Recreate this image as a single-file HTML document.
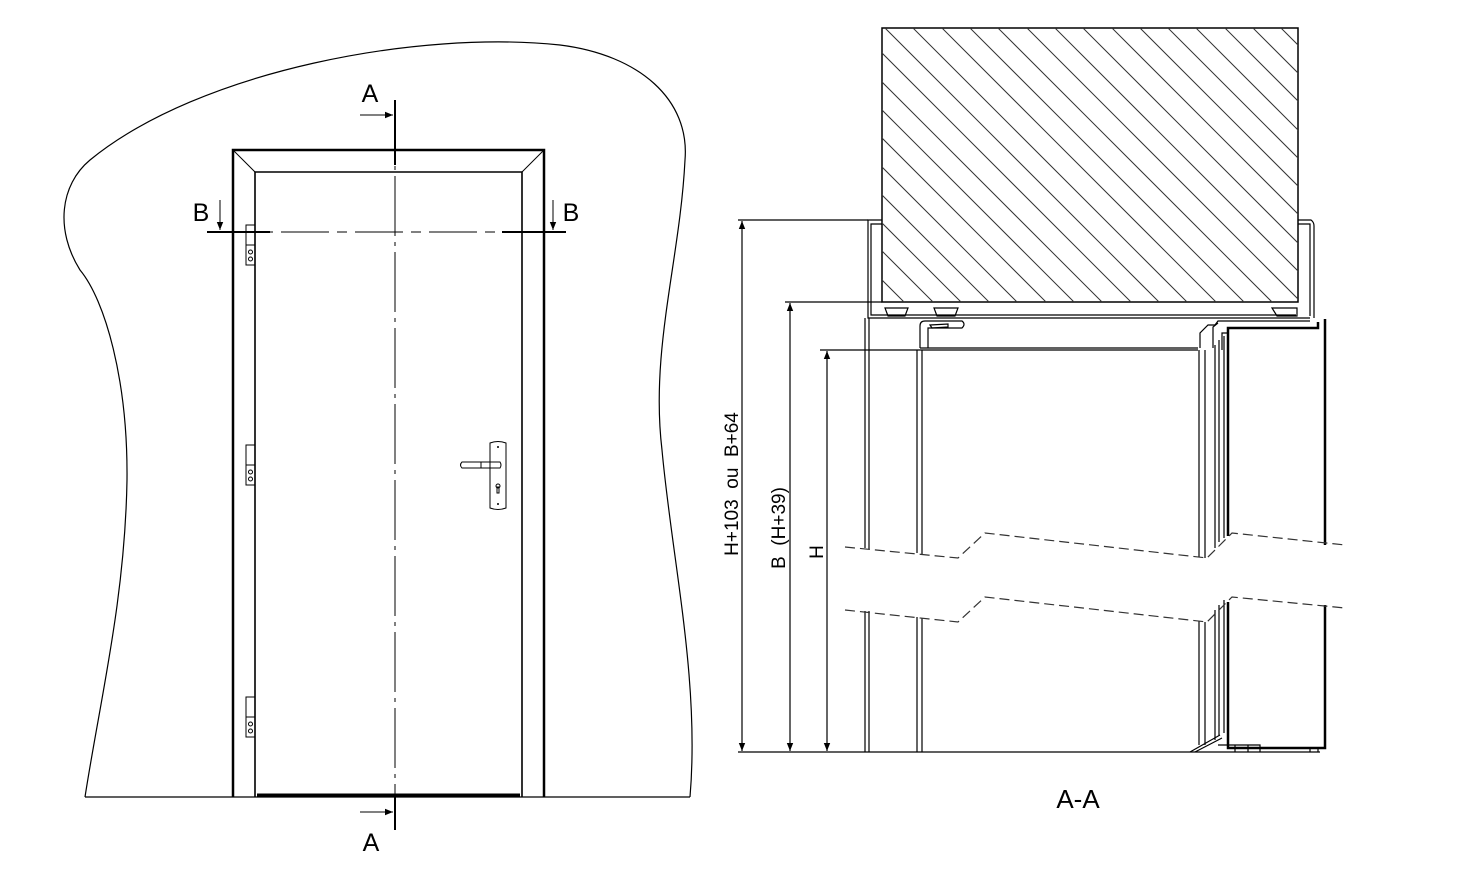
<!DOCTYPE html>
<html><head><style>html,body{margin:0;padding:0;background:#fff}svg{display:block}text{font-family:"Liberation Sans",Arial,sans-serif}</style></head>
<body>
<svg width="1463" height="878" viewBox="0 0 1463 878" xmlns="http://www.w3.org/2000/svg">
<defs>
<clipPath id="hc"><rect x="882" y="28" width="416" height="274"/></clipPath>
<marker id="ar" viewBox="0 0 10 10" refX="10" refY="5" markerWidth="10" markerHeight="8" orient="auto-start-reverse" markerUnits="userSpaceOnUse"><path d="M0,1 L10,5 L0,9 z" fill="#000"/></marker>
</defs>
<!-- LEFT: wall outline -->
<path d="M85,797 C100,700 125,600 127,480 C128,380 105,300 80,270 C55,230 60,185 90,160 C200,70 420,30 560,45 C640,55 690,100 685,160 C680,260 650,350 662,450 C672,560 700,680 690,797" fill="none" stroke="#000" stroke-width="1.2"/>
<line x1="85" y1="797" x2="690" y2="797" stroke="#000" stroke-width="1.2"/>
<!-- frame -->
<path d="M233,797 V150 H544 V797" fill="none" stroke="#000" stroke-width="2.5"/>
<path d="M255,797 V172 H522 V797" fill="none" stroke="#000" stroke-width="1.6"/>
<line x1="233" y1="150" x2="255" y2="172" stroke="#000"/>
<line x1="544" y1="150" x2="522" y2="172" stroke="#000"/>
<line x1="257" y1="795" x2="520" y2="795" stroke="#000" stroke-width="3"/>
<!-- centerline A -->
<line x1="395" y1="100" x2="395" y2="830" stroke="#000" stroke-width="1" stroke-dasharray="60,6,4,6"/>
<line x1="395" y1="100" x2="395" y2="165" stroke="#000" stroke-width="2"/>
<line x1="395" y1="795" x2="395" y2="830" stroke="#000" stroke-width="2"/>
<line x1="360" y1="115" x2="393" y2="115" stroke="#000" marker-end="url(#ar)"/>
<line x1="360" y1="812" x2="393" y2="812" stroke="#000" marker-end="url(#ar)"/>
<text x="370" y="102" font-size="25" text-anchor="middle">A</text>
<text x="371" y="851" font-size="25" text-anchor="middle">A</text>
<!-- B line -->
<line x1="207" y1="232" x2="566" y2="232" stroke="#000" stroke-width="1" stroke-dasharray="48,8,10,8"/>
<line x1="207" y1="232" x2="270" y2="232" stroke="#000" stroke-width="2"/>
<line x1="502" y1="232" x2="566" y2="232" stroke="#000" stroke-width="2"/>
<line x1="220" y1="200" x2="220" y2="230" stroke="#000" marker-end="url(#ar)"/>
<line x1="553" y1="200" x2="553" y2="230" stroke="#000" marker-end="url(#ar)"/>
<text x="201" y="221" font-size="25" text-anchor="middle">B</text>
<text x="571" y="221" font-size="25" text-anchor="middle">B</text>
<!-- hinges -->
<g fill="none" stroke="#000" stroke-width="1">
<rect x="246" y="225" width="9" height="40"/><line x1="246" y1="245" x2="255" y2="245"/><circle cx="250.5" cy="252" r="2"/><circle cx="250.5" cy="259" r="2"/>
<rect x="246" y="445" width="9" height="40"/><line x1="246" y1="465" x2="255" y2="465"/><circle cx="250.5" cy="472" r="2"/><circle cx="250.5" cy="479" r="2"/>
<rect x="246" y="697" width="9" height="40"/><line x1="246" y1="717" x2="255" y2="717"/><circle cx="250.5" cy="724" r="2"/><circle cx="250.5" cy="731" r="2"/>
<!-- handle -->
<path d="M490,443 Q498,440 506,443 L506,508 Q498,511 490,508 Z"/>
<path d="M462,462 H500 Q502,465 500,468 H462 Q459,465 462,462 Z"/>
<line x1="481" y1="462" x2="481" y2="468"/>
<circle cx="498" cy="486" r="2"/><rect x="497" y="487" width="2" height="6"/>
</g>
<circle cx="498" cy="447" r="1" fill="#000"/><circle cx="498" cy="504" r="1" fill="#000"/>
<!-- RIGHT: hatched wall -->
<rect x="882" y="28" width="416" height="274" fill="none" stroke="#000" stroke-width="1.5"/>
<g clip-path="url(#hc)" stroke="#333" stroke-width="1">
<path d="M602,28 l274,274 M630,28 l274,274 M659,28 l274,274 M687,28 l274,274 M715,28 l274,274 M743,28 l274,274 M772,28 l274,274 M800,28 l274,274 M828,28 l274,274 M857,28 l274,274 M885,28 l274,274 M913,28 l274,274 M942,28 l274,274 M970,28 l274,274 M998,28 l274,274 M1027,28 l274,274 M1055,28 l274,274 M1083,28 l274,274 M1112,28 l274,274 M1140,28 l274,274 M1168,28 l274,274 M1196,28 l274,274 M1225,28 l274,274 M1253,28 l274,274 M1281,28 l274,274"/>
</g>
<!-- frame profile -->
<g fill="none" stroke="#000" stroke-width="1.2">
<path d="M882,220 H868 V318 H1310"/>
<path d="M882,224 H871 V315 H1296"/>
<path d="M1298,220 H1311 Q1314,222 1314,226 V318"/>
<path d="M1298,224 H1310 V316"/>
<path d="M885,308 H908 L905,316 H888 Z M934,308 H958 L955,316 H937 Z M1272,308 H1297 V316 H1277 Z"/>
<path d="M920,348 V326 Q920,321 925,321 H962 Q966,324 962,328 H928 V348"/>
<path d="M930,325 L948,324 V327 L932,328 Z"/>
<line x1="920" y1="348" x2="1198" y2="348"/>
<line x1="920" y1="350" x2="1198" y2="350"/>
<path d="M1200,348 V333 L1208,325 H1215 L1218,321 H1310"/>
<path d="M1213,348 V327 L1218,323"/>
<path d="M1228,536 V328 H1318 V322 M1325,319 V545 M1228,602 V748 H1325 V605" stroke-width="2.5"/>
<path d="M1222,350 V333 H1228"/>
<!-- verticals upper -->
<path d="M865,318 V548 M869,318 V549 M917,350 V553 M922,350 V554 M1199,350 V557 M1205,350 V558 M1215,345 V548 M1219,340 V542 M1224,336 V538"/>
<!-- verticals lower -->
<path d="M865,611 V752 M869,611 V752 M917,617 V752 M922,618 V752 M1199,621 V745 M1205,622 V745 M1215,610 V740 M1219,605 V736 M1224,600 V733"/>
<path d="M1190,752 L1220,735 M1195,752 L1222,738 M1218,745 H1260 V752 M1235,745 V752 M1248,745 V752 M1310,748 V752 M1318,748 V752"/>
</g>
<!-- break lines -->
<g fill="none" stroke="#333" stroke-width="1.2" stroke-dasharray="10,5">
<path d="M845,547 L958,558 L985,533 L1207,558 L1232,533 L1345,545"/>
<path d="M845,610 L958,622 L985,597 L1207,622 L1232,597 L1345,608"/>
</g>
<!-- dimensions -->
<g stroke="#000" stroke-width="1.2" fill="none">
<line x1="738" y1="220" x2="868" y2="220"/>
<line x1="785" y1="302" x2="882" y2="302"/>
<line x1="820" y1="350" x2="920" y2="350"/>
<line x1="738" y1="752" x2="1320" y2="752"/>
<line x1="742" y1="221" x2="742" y2="751" marker-start="url(#ar)" marker-end="url(#ar)"/>
<line x1="790" y1="303" x2="790" y2="751" marker-start="url(#ar)" marker-end="url(#ar)"/>
<line x1="827" y1="351" x2="827" y2="751" marker-start="url(#ar)" marker-end="url(#ar)"/>
</g>
<text transform="translate(738,484) rotate(-90)" font-size="19" text-anchor="middle" xml:space="preserve">H+103  ou  B+64</text>
<text transform="translate(785,528) rotate(-90)" font-size="19" text-anchor="middle" xml:space="preserve">B  (H+39)</text>
<text transform="translate(823,552) rotate(-90)" font-size="19" text-anchor="middle">H</text>
<text x="1078" y="808" font-size="26" text-anchor="middle">A-A</text>
</svg>
</body></html>
